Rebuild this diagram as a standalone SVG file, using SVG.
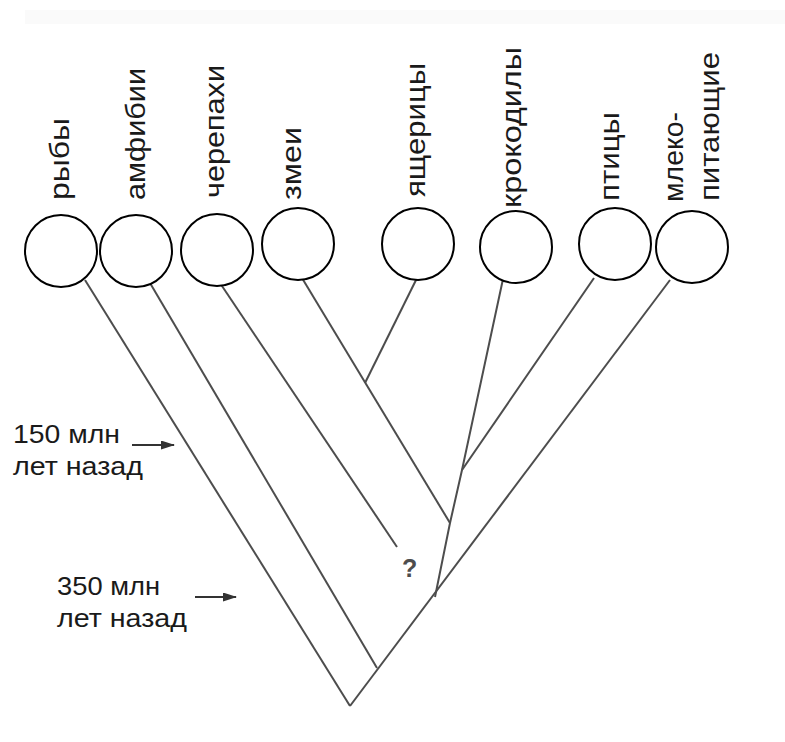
<svg xmlns="http://www.w3.org/2000/svg" width="785" height="742" viewBox="0 0 785 742">
<style>
.bg{fill:#ffffff}
.node{fill:#ffffff;stroke:#000000;stroke-width:2}
.lbl{font-family:"Liberation Sans",Arial,sans-serif;font-size:28px;fill:#1a1a1a}
.hl{font-family:"Liberation Sans",Arial,sans-serif;font-size:26px;fill:#1a1a1a}
.edge{fill:none;stroke:#4d4d4d;stroke-width:2;stroke-linejoin:round}
.arr{stroke:#333333;stroke-width:2;fill:none}
.q{font-family:"Liberation Sans",Arial,sans-serif;font-size:25px;fill:#4d4d4d;font-weight:bold}
</style>
<defs>
<marker id="ah" viewBox="0 0 14 9" refX="13" refY="4.5" markerWidth="14" markerHeight="9" markerUnits="userSpaceOnUse" orient="auto">
<path d="M0,0 L14,4.5 L0,9 Z" fill="#333333"/>
</marker>
</defs>
<rect class="bg" x="0" y="0" width="785" height="742"/>
<rect x="25" y="10" width="760" height="14" fill="#fafafa"/>
<g id="connectors">
<line class="edge" x1="85" y1="280" x2="350" y2="706"/>
<line class="edge" x1="670" y1="280" x2="350" y2="706"/>
<line class="edge" x1="150" y1="283" x2="377" y2="668"/>
<line class="edge" x1="220" y1="283" x2="397" y2="547"/>
<line class="edge" x1="302" y1="278" x2="450" y2="523"/>
<line class="edge" x1="417" y1="278" x2="365" y2="383"/>
<polyline class="edge" points="435,597 450,523 462,470 503,279"/>
<line class="edge" x1="594" y1="278" x2="462" y2="470"/>
</g>
<g id="node-ryby"><circle class="node" cx="61" cy="251" r="36"/><text class="lbl" transform="translate(69,200) rotate(-90)" textLength="82" lengthAdjust="spacingAndGlyphs">рыбы</text></g>
<g id="node-amfibii"><circle class="node" cx="136" cy="251" r="36"/><text class="lbl" transform="translate(145,200) rotate(-90)" textLength="132" lengthAdjust="spacingAndGlyphs">амфибии</text></g>
<g id="node-cherepahi"><circle class="node" cx="217" cy="250" r="36"/><text class="lbl" transform="translate(224,198) rotate(-90)" textLength="133" lengthAdjust="spacingAndGlyphs">черепахи</text></g>
<g id="node-zmei"><circle class="node" cx="298" cy="244" r="36"/><text class="lbl" transform="translate(301,200) rotate(-90)" textLength="73" lengthAdjust="spacingAndGlyphs">змеи</text></g>
<g id="node-yashchericy"><circle class="node" cx="418" cy="244" r="36"/><text class="lbl" transform="translate(425,197) rotate(-90)" textLength="134" lengthAdjust="spacingAndGlyphs">ящерицы</text></g>
<g id="node-krokodily"><text class="lbl" transform="translate(521,208) rotate(-90)" textLength="161" lengthAdjust="spacingAndGlyphs">крокодилы</text><circle class="node" cx="516" cy="247" r="36"/></g>
<g id="node-ptitsy"><circle class="node" cx="615" cy="244" r="36"/><text class="lbl" transform="translate(619,201) rotate(-90)" textLength="89" lengthAdjust="spacingAndGlyphs">птицы</text></g>
<g id="node-mlekopitayushchie"><circle class="node" cx="692" cy="247" r="36"/><text class="lbl" transform="translate(683,202) rotate(-90)" textLength="90" lengthAdjust="spacingAndGlyphs">млеко-</text><text class="lbl" transform="translate(719,201) rotate(-90)" textLength="149" lengthAdjust="spacingAndGlyphs">питающие</text></g>
<g id="question"><text class="q" x="402" y="577">?</text></g>
<g id="time-150">
<text class="hl" x="13" y="443" textLength="107" lengthAdjust="spacingAndGlyphs">150 млн</text>
<text class="hl" x="13" y="475" textLength="130" lengthAdjust="spacingAndGlyphs">лет назад</text>
<line class="arr" x1="132" y1="445" x2="174" y2="445" marker-end="url(#ah)"/>
</g>
<g id="time-350">
<text class="hl" x="57" y="595" textLength="103" lengthAdjust="spacingAndGlyphs">350 млн</text>
<text class="hl" x="57" y="627" textLength="130" lengthAdjust="spacingAndGlyphs">лет назад</text>
<line class="arr" x1="195" y1="597" x2="236" y2="597" marker-end="url(#ah)"/>
</g>
</svg>
